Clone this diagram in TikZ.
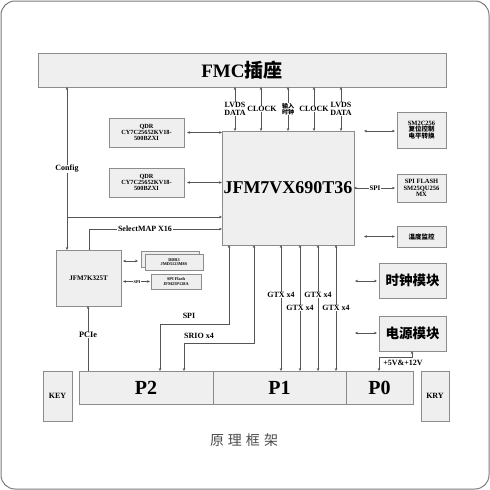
\documentclass[tikz,border=0pt]{standalone}
\usepackage{fontspec}
\setmainfont{Liberation Serif}
\newfontfamily\cjk{Noto Sans CJK SC}
\usetikzlibrary{arrows.meta,calc}
\definecolor{boxfill}{HTML}{EFEFEF}
\definecolor{boxline}{HTML}{8C8C8C}
\definecolor{wire}{HTML}{555555}
\definecolor{frame}{HTML}{7A7A7A}
\newcommand{\fs}[1]{\fontsize{#1}{#1}\selectfont}
\tikzset{
  box/.style={draw=boxline, fill=boxfill, line width=0.9pt, inner sep=0pt, outer sep=0pt, anchor=north west, align=center, font=\bfseries},
  dar/.style={draw=wire, line width=0.7pt, {Stealth[length=3pt,width=2.6pt]}-{Stealth[length=3pt,width=2.6pt]}},
  sar/.style={draw=wire, line width=0.7pt, -{Stealth[length=3pt,width=2.6pt]}},
  pln/.style={draw=wire, line width=0.7pt},
  lab/.style={fill=white, inner sep=0.6pt, font=\bfseries\fs{8}, align=center, text=black},
}
\begin{document}
\begin{tikzpicture}[x=1pt,y=-1pt]
\useasboundingbox (0,0) rectangle (490,490);
\draw[frame, line width=1pt, rounded corners=14pt] (1,1) rectangle (489,489);

% boxes
\node[box, minimum width=408pt, minimum height=34pt] (fmc) at (38,53) {\fs{19}FMC\cjk\bfseries 插座};
\node[box, minimum width=132pt, minimum height=114pt] (fpga) at (222,131) {\fs{18}JFM7VX690T36};
\node[box, minimum width=75pt, minimum height=29pt, font=\bfseries\fs{6.3}] (qdra) at (109,118) {QDR\\CY7C25652KV18-\\500BZXI};
\node[box, minimum width=75pt, minimum height=29pt, font=\bfseries\fs{6.3}] (qdrb) at (109,168) {QDR\\CY7C25652KV18-\\500BZXI};
\node[box, minimum width=49pt, minimum height=36pt, font=\bfseries\fs{6.5}] (sm) at (397,112) {SM2C256\\{\cjk\bfseries 复位控制}\\{\cjk\bfseries 电平转换}};
\node[box, minimum width=49pt, minimum height=28pt, font=\bfseries\fs{6.5}] (flash) at (397,174) {SPI FLASH\\SM25QU256\\MX};
\node[box, minimum width=49pt, minimum height=21pt, font=\cjk\bfseries\fs{6.5}] (temp) at (397,226) {温度监控};
\node[box, minimum width=67pt, minimum height=35pt, font=\cjk\bfseries\fs{13.5}] (clk) at (379,263) {时钟模块};
\node[box, minimum width=67pt, minimum height=35pt, font=\cjk\bfseries\fs{13.5}] (pwr) at (379,316) {电源模块};
\node[box, minimum width=65pt, minimum height=56pt, font=\bfseries\fs{7}] (k7) at (56,250) {JFM7K325T};
\node[box, minimum width=58pt, minimum height=16pt] (ddrb) at (141,251) {};
\node[box, minimum width=58pt, minimum height=16pt, font=\bfseries\fs{4.3}] (ddr) at (145,254) {DDR3\\JMD5123M8S};
\node[box, minimum width=50pt, minimum height=15pt, font=\bfseries\fs{4.3}] (spif) at (151,274) {SPI Flash\\JFM25P128A};
\node[box, minimum width=134pt, minimum height=33pt, font=\bfseries\fs{20}] (p2) at (79,371) {P2};
\node[box, minimum width=133pt, minimum height=33pt, font=\bfseries\fs{20}] (p1) at (213,371) {P1};
\node[box, minimum width=67pt, minimum height=33pt, font=\bfseries\fs{20}] (p0) at (346,371) {P0};
\node[box, minimum width=29pt, minimum height=50pt, font=\bfseries\fs{8}] (key) at (43,371) {KEY};
\node[box, minimum width=28pt, minimum height=50pt, font=\bfseries\fs{8}] (kry) at (421,371) {KRY};

% FPGA to FMC
\foreach \xx in {235,261,288,314,341} \draw[dar] (fpga.north -| \xx,0) -- (fmc.south -| \xx,0);
\node[lab] (l1) at (235,109) {LVDS\\DATA};
\node[lab] (l2) at (262,109) {CLOCK};
\node[lab, font=\cjk\bfseries\fs{6}] (l3) at (288,109) {输入\\时钟};
\node[lab] (l4) at (314,109) {CLOCK};
\node[lab] (l5) at (341,109) {LVDS\\DATA};

% QDR
\draw[dar, shorten <=3pt] (qdra.east) -- (fpga.west |- qdra.east);
\draw[dar, shorten <=3pt] (qdrb.east) -- (fpga.west |- qdrb.east);

% Config
\draw[dar] (k7.north -| 67,0) -- (fmc.south -| 67,0);
\coordinate (cfgb) at (67,217);
\draw[sar] (cfgb) -- (fpga.west |- cfgb);
\node[lab] (cfg) at (67,169) {Config};

% SelectMAP
\coordinate (smp) at (89,229);
\draw[sar] (k7.north -| smp) -- (smp) -- (fpga.west |- smp);
\node[lab] (smpl) at (145,229) {SelectMAP X16};

% K7 peripherals
\draw[dar, shorten <=2pt, shorten >=3pt] (k7.east |- ddr.west) ++(0,-1) coordinate (dd1) (dd1) -- (ddrb.west |- dd1);
\draw[dar, shorten <=2pt, shorten >=1pt] (k7.east |- spif.west) -- (spif.west);
\node[lab, font=\bfseries\fs{4.3}] (spik) at (137,282) {SPI};

% PCIe
\draw[sar] (p2.north -| 88,0) -- (k7.south -| 88,0);
\node[lab, font=\bfseries\fs{8.3}] (pcie) at (88,335) {PCIe};

% SPI and SRIO to P2
\draw[dar] (fpga.south -| 229,0) -- (229,324) -| (p2.north -| 160,0);
\draw[dar] (fpga.south -| 254,0) -- (254,343) -| (p2.north -| 184,0);
\node[lab] (spil) at (189,316) {SPI};
\node[lab] (srio) at (199,336) {SRIO x4};

% GTX to P1
\foreach \xx in {281,300,318,336} \draw[dar] (fpga.south -| \xx,0) -- (p1.north -| \xx,0);
\node[lab] (g1) at (281,295) {GTX x4};
\node[lab] (g2) at (318,295) {GTX x4};
\node[lab] (g3) at (300,308) {GTX x4};
\node[lab] (g4) at (336,308) {GTX x4};

% right side
\coordinate (smf) at (364,131);
\draw[dar, shorten >=2pt] (smf) -- (sm.west |- smf);
\draw[dar, shorten >=2pt] (fpga.east |- flash.west) -- (flash.west);
\node[lab, font=\bfseries\fs{7}] (spir) at (375,188) {SPI};
\coordinate (tmf) at (364,236.5);
\draw[dar, shorten >=2pt] (tmf) -- (temp.west |- tmf);
\coordinate (ckf) at (355,281);
\draw[dar, shorten >=2pt] (ckf) -- (clk.west |- ckf);
\coordinate (pwf) at (355,333);
\draw[dar, shorten >=2pt] (pwf) -- (pwr.west |- pwf);

% power
\draw[dar] (pwr.south -| 412,0) -- (412,357) -| (p0.north -| 379,0);
\node[font=\bfseries\fs{8}, inner sep=0pt] (pv) at (403,363) {+5V\&+12V};

% caption
\node[font=\cjk\fs{14}, text=black!70, inner sep=0pt] (cap) at (244,440) {原\hspace{4pt}理\hspace{4pt}框\hspace{4pt}架};
\end{tikzpicture}
\end{document}
